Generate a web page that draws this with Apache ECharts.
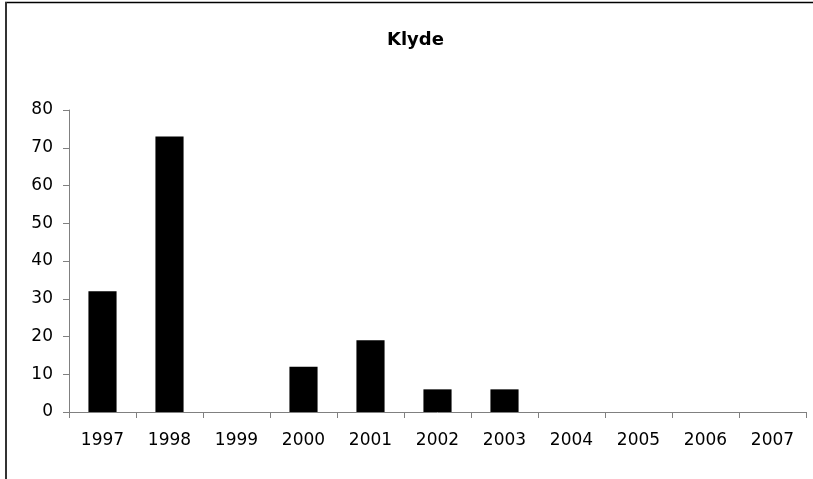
<!DOCTYPE html>
<html>
<head>
<meta charset="utf-8">
<script src="https://cdn.jsdelivr.net/npm/echarts@6/dist/echarts.min.js"></script>
<style>
html,body{margin:0;padding:0;background:#fff;}
#chart{width:813px;height:479px;}
</style>
</head>
<body>
<div id="chart"></div>
<script>
const titleText = 'Klyde';
const categories = ['1997','1998','1999','2000','2001','2002','2003','2004','2005','2006','2007'];
const values = [32, 73, 0, 12, 19, 6, 6, 0, 0, 0, 0];
const yMin = 0, yMax = 80, yInterval = 10;

const chart = echarts.init(document.getElementById('chart'), null, {renderer: 'canvas'});
const font = 'DejaVu Sans';
chart.setOption({
  animation: false,
  backgroundColor: '#fff',
  title: {
    text: titleText,
    left: 382,
    top: 26,
    textStyle: {fontFamily: font, fontSize: 18, fontWeight: 'bold', color: '#000'}
  },
  grid: {left: 69, right: 7, top: 110, bottom: 67, containLabel: false},
  xAxis: {
    type: 'category',
    data: categories,
    boundaryGap: true,
    axisLine: {lineStyle: {color: '#808080', width: 1}},
    axisTick: {show: true, length: 6, lineStyle: {color: '#808080'}},
    axisLabel: {fontFamily: font, fontSize: 17, color: '#000', margin: 20, interval: 0},
    splitLine: {show: false}
  },
  yAxis: {
    type: 'value',
    min: yMin, max: yMax, interval: yInterval,
    axisLine: {show: true, lineStyle: {color: '#808080', width: 1}},
    axisTick: {show: true, length: 6, lineStyle: {color: '#808080'}},
    axisLabel: {fontFamily: font, fontSize: 17, color: '#000', margin: 16},
    splitLine: {show: false}
  },
  series: [{
    type: 'bar',
    data: values,
    barWidth: '42%',
    itemStyle: {color: '#000'}
  }],
  graphic: [
    {type: 'line', shape: {x1: 5, y1: 2.5, x2: 813, y2: 2.5}, style: {stroke: '#000', lineWidth: 1.5}, silent: true},
    {type: 'line', shape: {x1: 6, y1: 2, x2: 6, y2: 479}, style: {stroke: '#333', lineWidth: 2}, silent: true}
  ]
});
</script>
</body>
</html>
